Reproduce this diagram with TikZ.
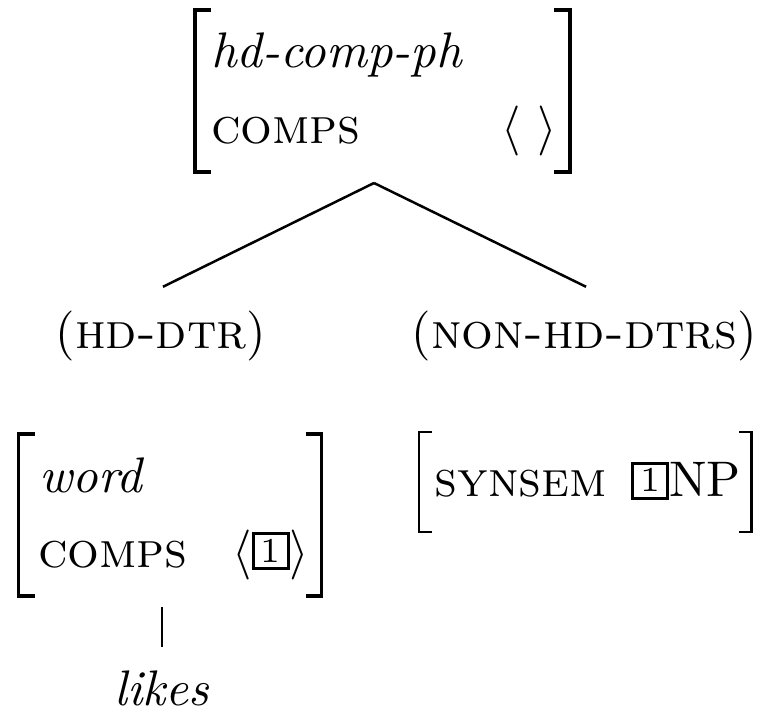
\documentclass[tikz,border=0pt]{standalone}
\usepackage{amsmath,amssymb}
\usepackage{tikz}
\usetikzlibrary{positioning,calc}
\newcommand{\tagbox}[1]{{\setlength{\fboxsep}{0pt}\setlength{\fboxrule}{0.6pt}\fbox{\makebox[6.4pt]{\rule{0pt}{6.4pt}\raisebox{0.95pt}{\scriptsize #1}}}}}
% square brackets round an (empty) frame node
\newcommand{\avmframe}[3][0.7pt]{%
  \draw[line width=#1] ([xshift=#3]#2.north west) -- (#2.north west) -- (#2.south west) -- ([xshift=#3]#2.south west);
  \draw[line width=#1] ([xshift=-#3]#2.north east) -- (#2.north east) -- (#2.south east) -- ([xshift=-#3]#2.south east);}
\tikzset{frame/.style={inner sep=0pt, outer sep=0pt},
         txt/.style={inner sep=0pt, anchor=base west},
         lbl/.style={inner sep=0pt, anchor=base}}

\begin{document}
\begin{tikzpicture}[line width=0.5pt]
    \useasboundingbox (0,0) rectangle (152.4pt,142.8pt);
    % mother
    \node[frame, minimum width=75pt, minimum height=32.4pt] (phrase) at (76.5pt,124.6pt) {};
    \node[txt] (type1) at (42pt,129.4pt) {\textit{hd-comp-ph}};
    \node[txt] (comps1) at (42pt,114.2pt) {\textsc{comps}};
    \node[txt] (list1) at (100pt,114.2pt) {$\langle\ \rangle$};
    \avmframe{phrase}{3.2pt}

    \node[lbl] (hddtr) at (32.2pt,73.2pt) {(\textsc{hd-dtr})};
    \node[lbl] (nonhd) at (116.9pt,73.2pt) {(\textsc{non-hd-dtrs})};

    % head daughter
    \node[frame, minimum width=60.6pt, minimum height=32.4pt] (word) at (34pt,39.8pt) {};
    \node[txt] (type2) at (7.6pt,44.4pt) {\textit{word}};
    \node[txt] (comps2) at (7.4pt,29.4pt) {\textsc{comps}};
    \node[txt] (list2) at (46.2pt,29.4pt) {$\langle\tagbox{1}\rangle$};
    \avmframe{word}{3.2pt}

    % non-head daughter
    \node[frame, minimum width=66.5pt, minimum height=20pt] (synsem) at (117.05pt,46.4pt) {};
    \node[txt] (feat3) at (86.7pt,43.5pt) {\textsc{synsem}};
    \node[txt] (val3) at (126pt,43.5pt) {\tagbox{1}NP};
    \avmframe[0.5pt]{synsem}{2.5pt}

    \node[lbl] (likes) at (32.4pt,1.8pt) {\textit{likes}};

    \coordinate (apex) at ([xshift=-1.7pt,yshift=-2.2pt]phrase.south);
    \draw (apex) -- ([xshift=0.4pt,yshift=4.5pt]hddtr.north);
    \draw (apex) -- ([xshift=0.3pt,yshift=4.5pt]nonhd.north);
    \draw ([xshift=-1.6pt,yshift=-2.2pt]word.south) -- ([yshift=4.5pt]likes.north);
\end{tikzpicture}
\end{document}
